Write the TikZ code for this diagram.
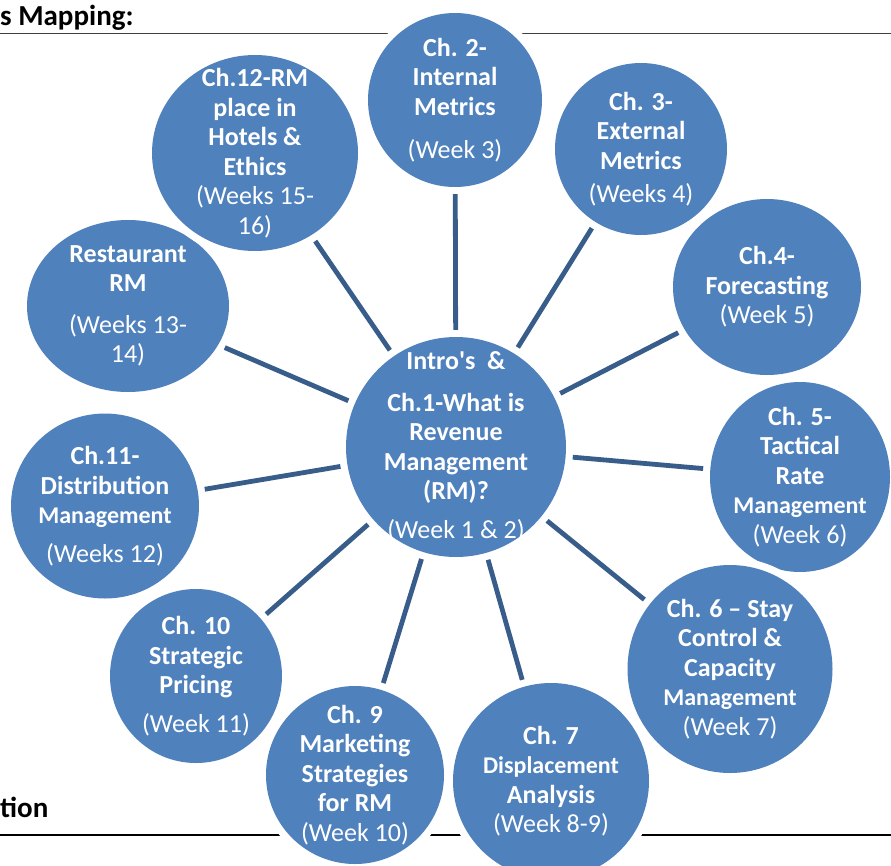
\documentclass[tikz,border=0pt]{standalone}
\usepackage{fontspec}
\setmainfont{Carlito}
\usetikzlibrary{shapes.geometric}

\definecolor{topicblue}{HTML}{4F81BD}
\definecolor{spokeblue}{HTML}{385D8A}

\newcommand{\wk}[1]{{\mdseries #1}}
\newcommand{\sm}[1]{{\fontsize{24}{29.5}\selectfont #1}}

\begin{document}
\begin{tikzpicture}[x=1pt, y=-1pt,
    topic/.style={ellipse, fill=topicblue, inner sep=0pt,
        preaction={draw=white, line width=15pt}},
    txt/.style={text=white, align=center, inner sep=0pt,
        font=\fontsize{26}{29.5}\selectfont\bfseries},
    head/.style={anchor=base west, inner sep=0pt,
        font=\fontsize{29}{34}\selectfont\bfseries},
    spoke/.style={spokeblue, line width=4.8pt, shorten >=7pt, shorten <=7pt}]
    \useasboundingbox (0,0) rectangle (891,865);

    \node[head] (map)  at (0,25)  {s Mapping:};
    \node[head] (tion) at (0,817) {tion};
    \draw[black!75, line width=1pt] (0,33) -- (891,33);
    \draw[black, line width=2pt] (0,835) -- (891,835);

    \node[topic, minimum width=220pt, minimum height=220pt] (hub)  at (456,447) {};
    \node[topic, minimum width=174pt, minimum height=174pt] (c2)   at (455,100) {};
    \node[topic, minimum width=172pt, minimum height=172pt] (c3)   at (641,149) {};
    \node[topic, minimum width=188pt, minimum height=176pt] (c4)   at (767,287) {};
    \node[topic, minimum width=180pt, minimum height=190pt] (c5)   at (800,477) {};
    \node[topic, minimum width=205pt, minimum height=208pt] (c6)   at (730,669) {};
    \node[topic, minimum width=196pt, minimum height=196pt] (c7)   at (551,781) {};
    \node[topic, minimum width=178pt, minimum height=178pt] (c9)   at (355,775) {};
    \node[topic, minimum width=172pt, minimum height=174pt] (c10)  at (196,676) {};
    \node[topic, minimum width=188pt, minimum height=185pt] (c11)  at (105,506) {};
    \node[topic, minimum width=202pt, minimum height=172pt] (rest) at (128,306) {};
    \node[topic, minimum width=206pt, minimum height=196pt] (c12)  at (255,153) {};

    \draw[spoke] (hub) -- (c2);
    \draw[spoke] (hub) -- (c3);
    \draw[spoke] (hub) -- (c4);
    \draw[spoke] (hub) -- (c5);
    \draw[spoke] (hub) -- (c6);
    \draw[spoke] (hub) -- (c7);
    \draw[spoke] (hub) -- (c9);
    \draw[spoke] (hub) -- (c10);
    \draw[spoke] (hub) -- (c11);
    \draw[spoke] (hub) -- (rest);
    \draw[spoke] (hub) -- (c12);

    \node[txt] (thub)  at (hub)  {Intro\textquotesingle s\ \ \&\\[12pt]Ch.1-What is\\Revenue\\Management\\(RM)?\\[9pt]\wk{(Week 1 \& 2)}};
    \node[txt] (t2)    at (c2)   {Ch. 2-\\Internal\\Metrics\\[14pt]\wk{(Week 3)}};
    \node[txt] (t3)    at (c3)   {Ch. 3-\\External\\Metrics\\[4pt]\wk{(Weeks 4)}};
    \node[txt] (t4)    at (c4)   {Ch.4-\\Forecasting\\\wk{(Week 5)}};
    \node[txt] (t5)    at (c5)   {Ch. 5-\\Tactical\\Rate\\\sm{Management}\\\wk{(Week 6)}};
    \node[txt] (t6)    at (c6)   {Ch. 6 -- Stay\\Control \&\\Capacity\\\sm{Management}\\\wk{(Week 7)}};
    \node[txt] (t7)    at (c7)   {Ch. 7\\\sm{Displacement}\\Analysis\\\wk{(Week 8-9)}};
    \node[txt] (t9)    at (c9)   {Ch. 9\\Marketing\\Strategies\\for RM\\\wk{(Week 10)}};
    \node[txt] (t10)   at (c10)  {Ch. 10\\Strategic\\Pricing\\[9pt]\wk{(Week 11)}};
    \node[txt] (t11)   at (c11)  {Ch.11-\\Distribution\\\sm{Management}\\[9pt]\wk{(Weeks 12)}};
    \node[txt] (trest) at (rest) {Restaurant\\RM\\[12pt]\wk{(Weeks 13-}\\\wk{14)}};
    \node[txt] (t12)   at (c12)  {Ch.12-RM\\place in\\Hotels \&\\Ethics\\\wk{(Weeks 15-}\\\wk{16)}};
\end{tikzpicture}
\end{document}
